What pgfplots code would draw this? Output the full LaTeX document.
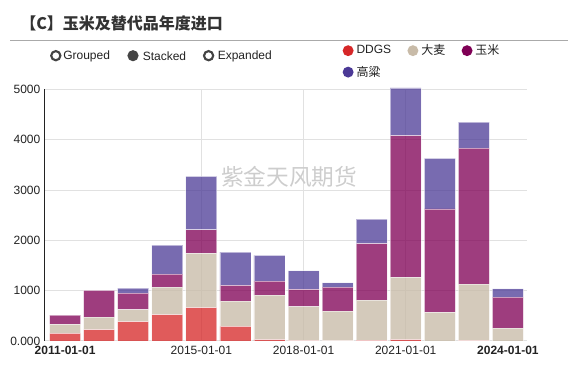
\documentclass[border=0pt]{standalone}
\usepackage{pgfplots}
\pgfplotsset{compat=1.18}
\usepackage{pgfplotstable}
\usepackage{fontspec}
\setmainfont{Liberation Sans}
\newfontfamily\cjk{Noto Sans CJK SC}
\definecolor{cDDGS}{RGB}{214,39,40}
\definecolor{cDamai}{RGB}{200,187,168}
\definecolor{cYumi}{RGB}{127,0,85}
\definecolor{cGao}{RGB}{75,57,150}
\definecolor{gridc}{RGB}{225,225,225}
\definecolor{txt}{RGB}{34,34,34}
\definecolor{wm}{RGB}{205,205,205}
\definecolor{radio}{RGB}{68,68,68}

\pgfplotstableread{
year ddgs damai yumi gao
2011 152 179 185 0
2012 225 251 529 0
2013 384 238 330 100
2014 522 549 258 576
2015 661 1079 469 1065
2016 291 503 311 661
2017 26 887 277 510
2018 5 676 344 371
2019 3 592 476 86
2020 13 801 1124 483
2021 26 1237 2818 949
2022 0 569 2057 1005
2023 5 1126 2705 516
2024 0 258 615 165
}\data

\begin{document}
\begin{tikzpicture}
\path[use as bounding box] (0,0) rectangle (434.25pt,277.5pt);
\begin{axis}[
  at={(33.75pt,21.75pt)}, anchor=south west,
  scale only axis, width=361.5pt, height=188.625pt,
  xmin=2010.41, xmax=2024.56, ymin=0, ymax=5000,
  clip=false,
  ybar stacked, bar width=0.91,
  axis lines*=left,
  x axis line style={draw=none},
  y axis line style={color=txt, line width=0.75pt},
  major tick length=0pt,
  xtick={2015,2018,2021},
  xticklabels={2015-01-01,2018-01-01,2021-01-01},
  extra x ticks={2011,2024},
  extra x tick labels={\textbf{2011-01-01},\textbf{2024-01-01}},
  extra x tick style={grid=none},
  ytick={0,1000,2000,3000,4000,5000},
  yticklabels={0.000,1000,2000,3000,4000,5000},
  xmajorgrids, ymajorgrids,
  grid style={color=gridc, line width=0.75pt},
  tick label style={font=\fontsize{9}{10}\selectfont, color=txt},
  legend columns=3,
  legend style={at={(0.617,1.198)}, anchor=north west, draw=none, fill=none,
    inner sep=0pt, font=\fontsize{9}{10}\selectfont, text=txt,
    /tikz/every even column/.append style={column sep=10pt},
    nodes={inner xsep=2.2pt, inner ysep=3.5pt}},
  legend cell align=left,
]
\addplot[fill=cDDGS, fill opacity=0.76, draw=white, draw opacity=0.5, line width=0.6pt,
  legend image code/.code={\fill[cDDGS, fill opacity=1, draw=none] (0pt,0pt) circle (4.1pt);}]
  table[x=year, y=ddgs]{\data};
\addlegendentry{DDGS}
\addplot[fill=cDamai, fill opacity=0.78, draw=white, draw opacity=0.5, line width=0.6pt,
  legend image code/.code={\fill[cDamai, fill opacity=1, draw=none] (0pt,0pt) circle (4.1pt);}]
  table[x=year, y=damai]{\data};
\addlegendentry{\cjk 大麦}
\addplot[fill=cYumi, fill opacity=0.76, draw=white, draw opacity=0.5, line width=0.6pt,
  legend image code/.code={\fill[cYumi, fill opacity=1, draw=none] (0pt,0pt) circle (4.1pt);}]
  table[x=year, y=yumi]{\data};
\addlegendentry{\cjk 玉米}
\addplot[fill=cGao, fill opacity=0.75, draw=white, draw opacity=0.5, line width=0.6pt,
  legend image code/.code={\fill[cGao, fill opacity=1, draw=none] (0pt,0pt) circle (4.1pt);}]
  table[x=year, y=gao]{\data};
\addlegendentry{\cjk 高粱}
\end{axis}
\begin{scope}[x=0.75pt, y=-0.75pt, yshift=277.5pt]
  \node[anchor=west, inner sep=0pt, text={rgb,255:red,51;green,51;blue,51}, font=\cjk\bfseries\fontsize{12}{14}\selectfont] at (20,23) {【C】玉米及替代品年度进口};
  \draw[color={rgb,255:red,170;green,170;blue,170}, line width=0.75pt] (10,40.5) -- (568,40.5);
  \draw[radio, line width=1.6pt] (55.8,55.7) circle (4.6);
  \fill[radio] (133,55.7) circle (5.6);
  \draw[radio, line width=1.6pt] (208.6,55.7) circle (4.6);
  \node[anchor=west, inner sep=0pt, text=txt, font=\fontsize{9}{10}\selectfont] at (63,56) {Grouped};
  \node[anchor=west, inner sep=0pt, text=txt, font=\fontsize{9}{10}\selectfont] at (142.5,56) {Stacked};
  \node[anchor=west, inner sep=0pt, text=txt, font=\fontsize{9}{10}\selectfont] at (217.5,56) {Expanded};
  \node[text=wm, inner sep=0pt, font=\cjk\fontsize{17}{20}\selectfont] at (289,177) {紫金天风期货};
\end{scope}
\end{tikzpicture}
\end{document}
